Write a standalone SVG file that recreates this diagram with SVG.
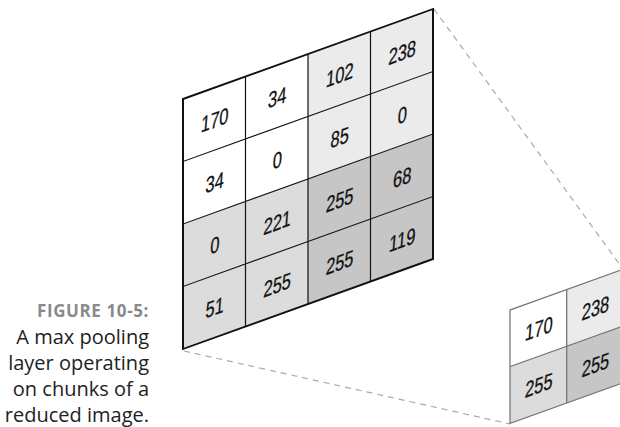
<svg xmlns="http://www.w3.org/2000/svg" width="620" height="427" viewBox="0 0 620 427">
  <style>
    .num { font-family: "Liberation Sans", Arial, sans-serif; font-size: 22px; fill: #111; stroke: #111; stroke-width: 0.3; text-anchor: middle; }
    .w { fill: #ffffff; }
    .l1 { fill: #ebebeb; }
    .l2 { fill: #dcdcdc; }
    .l3 { fill: #c6c6c6; }
    .bigline { stroke: #111; stroke-width: 1.2; fill: none; }
    .bigborder { stroke: #111; stroke-width: 2; fill: none; }
    .smallline { stroke: #777; stroke-width: 1.3; fill: none; }
    .dash { stroke: #aaa; stroke-width: 1.2; stroke-dasharray: 6 5; fill: none; }
    .figlabel { font-family: "Open Sans", "Noto Sans", sans-serif; font-weight: bold; font-size: 17px; letter-spacing: 0.6px; fill: #8a8a8a; text-anchor: end; }
    .cap { font-family: "Open Sans", "Noto Sans", sans-serif; font-size: 20px; fill: #222; text-anchor: end; }
  </style>
  <rect width="620" height="427" fill="#ffffff"/>

  <g id="connectors">
    <line class="dash" x1="434" y1="9" x2="623" y2="269"/>
    <line class="dash" x1="184" y1="351" x2="510" y2="424"/>
  </g>

  <g id="input-grid" transform="translate(183,99) skewY(-19.8)">
    <rect class="w" x="0" y="0" width="125" height="125"/>
    <rect class="l1" x="125" y="0" width="125" height="125"/>
    <rect class="l2" x="0" y="125" width="125" height="125"/>
    <rect class="l3" x="125" y="125" width="125" height="125"/>
    <path class="bigline" d="M62.5 0V250M125 0V250M187.5 0V250M0 62.5H250M0 125H250M0 187.5H250"/>
    <rect class="bigborder" x="0" y="0" width="250" height="250"/>
    <g transform="translate(31.25,40) scale(0.75,1) skewX(-6)"><text class="num">170</text></g>
    <g transform="translate(93.75,40) scale(0.75,1) skewX(-6)"><text class="num">34</text></g>
    <g transform="translate(156.25,40) scale(0.75,1) skewX(-6)"><text class="num">102</text></g>
    <g transform="translate(218.75,40) scale(0.75,1) skewX(-6)"><text class="num">238</text></g>
    <g transform="translate(31.25,102.5) scale(0.75,1) skewX(-6)"><text class="num">34</text></g>
    <g transform="translate(93.75,102.5) scale(0.75,1) skewX(-6)"><text class="num">0</text></g>
    <g transform="translate(156.25,102.5) scale(0.75,1) skewX(-6)"><text class="num">85</text></g>
    <g transform="translate(218.75,102.5) scale(0.75,1) skewX(-6)"><text class="num">0</text></g>
    <g transform="translate(31.25,165) scale(0.75,1) skewX(-6)"><text class="num">0</text></g>
    <g transform="translate(93.75,165) scale(0.75,1) skewX(-6)"><text class="num">221</text></g>
    <g transform="translate(156.25,165) scale(0.75,1) skewX(-6)"><text class="num">255</text></g>
    <g transform="translate(218.75,165) scale(0.75,1) skewX(-6)"><text class="num">68</text></g>
    <g transform="translate(31.25,227.5) scale(0.75,1) skewX(-6)"><text class="num">51</text></g>
    <g transform="translate(93.75,227.5) scale(0.75,1) skewX(-6)"><text class="num">255</text></g>
    <g transform="translate(156.25,227.5) scale(0.75,1) skewX(-6)"><text class="num">255</text></g>
    <g transform="translate(218.75,227.5) scale(0.75,1) skewX(-6)"><text class="num">119</text></g>
  </g>

  <g id="pooled-grid" transform="translate(510,310) skewY(-19.8)">
    <rect class="w" x="0" y="0" width="56.7" height="56.7"/>
    <rect class="l1" x="56.7" y="0" width="56.7" height="56.7"/>
    <rect class="l2" x="0" y="56.7" width="56.7" height="56.7"/>
    <rect class="l3" x="56.7" y="56.7" width="56.7" height="56.7"/>
    <path class="smallline" d="M56.7 0V113.4M0 56.7H113.4"/>
    <rect class="smallline" x="0" y="0" width="113.4" height="113.4"/>
    <g transform="translate(28.3,36.5) scale(0.75,1) skewX(-6)"><text class="num">170</text></g>
    <g transform="translate(85,36.5) scale(0.75,1) skewX(-6)"><text class="num">238</text></g>
    <g transform="translate(28.3,93.2) scale(0.75,1) skewX(-6)"><text class="num">255</text></g>
    <g transform="translate(85,93.2) scale(0.75,1) skewX(-6)"><text class="num">255</text></g>
  </g>

  <g id="caption">
    <text class="figlabel" x="149" y="317">FIGURE 10-5:</text>
    <text class="cap" x="149" y="343.5">A max pooling</text>
    <text class="cap" x="149" y="369.5">layer operating</text>
    <text class="cap" x="149" y="395.5">on chunks of a</text>
    <text class="cap" x="149" y="421.5">reduced image.</text>
  </g>
</svg>
